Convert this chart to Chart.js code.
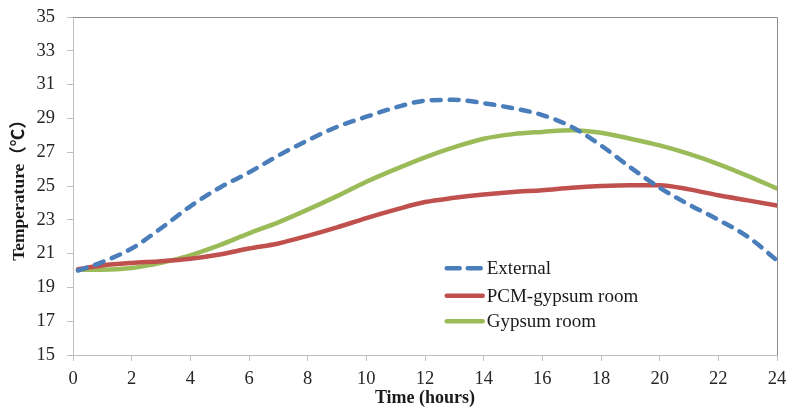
<!DOCTYPE html>
<html>
<head>
<meta charset="utf-8">
<script src="https://cdn.jsdelivr.net/npm/chart.js@4"></script>
<style>
  html, body { margin: 0; padding: 0; background: #ffffff; }
  #wrap { width: 788px; height: 410px; position: relative; }
</style>
</head>
<body>
<div id="wrap"><canvas id="chart"></canvas></div>
<script>
// Hourly temperature readings over one day (°C)
const hours = [0.17, 1, 2, 3, 4, 5, 6, 7, 8, 9, 10, 11, 12, 13, 14, 15, 16, 17, 18, 19, 20, 21, 22, 23, 24];
const external = [20.0, 20.5, 21.3, 22.5, 23.8, 24.9, 25.8, 26.8, 27.7, 28.5, 29.1, 29.65, 30.05, 30.1, 29.9, 29.6, 29.2, 28.5, 27.4, 26.1, 24.9, 23.9, 23.0, 22.0, 20.6];
const pcmGypsumRoom = [20.08, 20.3, 20.45, 20.55, 20.7, 20.95, 21.3, 21.6, 22.05, 22.55, 23.1, 23.6, 24.05, 24.3, 24.5, 24.65, 24.75, 24.9, 25.0, 25.05, 25.05, 24.8, 24.45, 24.15, 23.85];
const gypsumRoom = [20.05, 20.05, 20.15, 20.45, 20.9, 21.5, 22.2, 22.85, 23.6, 24.4, 25.25, 26.0, 26.7, 27.3, 27.8, 28.07, 28.2, 28.3, 28.15, 27.8, 27.4, 26.9, 26.3, 25.6, 24.85];
const seriesNames = ['External', 'PCM-gypsum room', 'Gypsum room'];
const xTitle = 'Time (hours)';
const yTitle = 'Temperature（℃）';

const serif = "'Liberation Serif', 'Times New Roman', 'Noto Sans CJK SC', serif";
const axisGray = '#bfbfbf';
const frameGray = '#8e8e8e';

const toPoints = (vals) => vals.map((v, i) => ({ x: hours[i], y: v }));

// Legend drawn inside the plot area, lower middle
const insetLegend = {
  id: 'insetLegend',
  afterDatasetsDraw(chart) {
    const { ctx, chartArea: a } = chart;
    const x0 = a.left + a.width * 0.528;
    const lineLen = a.width * 0.054;
    const rows = [0.743, 0.825, 0.9];
    ctx.save();
    ctx.font = '19px ' + serif;
    ctx.textBaseline = 'middle';
    ctx.textAlign = 'left';
    chart.data.datasets.forEach((ds, i) => {
      const y = a.top + a.height * rows[i];
      ctx.beginPath();
      ctx.strokeStyle = ds.borderColor;
      ctx.lineWidth = ds.borderWidth;
      ctx.lineCap = 'round';
      ctx.setLineDash(ds.borderDash ? [13, 8] : []);
      ctx.moveTo(x0 + 2, y);
      ctx.lineTo(x0 + lineLen, y);
      ctx.stroke();
      ctx.setLineDash([]);
      ctx.fillStyle = '#1a1a1a';
      ctx.fillText(ds.label, x0 + lineLen + 4, y + 1);
    });
    ctx.restore();
  }
};

// Top and right frame lines of the plot area
const plotFrame = {
  id: 'plotFrame',
  beforeDatasetsDraw(chart) {
    const { ctx, chartArea: a } = chart;
    ctx.save();
    ctx.strokeStyle = frameGray;
    ctx.lineWidth = 1;
    ctx.beginPath();
    ctx.moveTo(a.left, a.top + 0.5);
    ctx.lineTo(a.right + 0.5, a.top + 0.5);
    ctx.lineTo(a.right + 0.5, a.bottom);
    ctx.stroke();
    ctx.restore();
  }
};

new Chart(document.getElementById('chart'), {
  type: 'line',
  data: {
    datasets: [
      {
        label: seriesNames[0],
        data: toPoints(external),
        borderColor: '#4a7ebb',
        borderWidth: 4.5,
        borderDash: [9, 9],
        borderCapStyle: 'round',
        pointRadius: 0,
        cubicInterpolationMode: 'monotone'
      },
      {
        label: seriesNames[1],
        data: toPoints(pcmGypsumRoom),
        borderColor: '#c0504d',
        borderWidth: 4.5,
        borderCapStyle: 'round',
        pointRadius: 0,
        cubicInterpolationMode: 'monotone'
      },
      {
        label: seriesNames[2],
        data: toPoints(gypsumRoom),
        borderColor: '#9bbb59',
        borderWidth: 4.5,
        borderCapStyle: 'round',
        pointRadius: 0,
        cubicInterpolationMode: 'monotone'
      }
    ]
  },
  options: {
    responsive: true,
    maintainAspectRatio: false,
    animation: false,
    layout: { padding: { top: 17, right: 11, left: 0, bottom: 0 } },
    plugins: {
      legend: { display: false },
      tooltip: { enabled: false }
    },
    scales: {
      x: {
        type: 'linear',
        min: 0,
        max: 24,
        afterFit(scale) {
          scale.height = 55;
          scale.paddingLeft = 0;
          scale.paddingRight = 0;
        },
        ticks: {
          stepSize: 2,
          padding: 7,
          color: '#262626',
          font: { family: serif, size: 18.5 }
        },
        grid: { drawOnChartArea: false, drawTicks: true, tickLength: 6, color: axisGray },
        border: { display: true, color: axisGray, width: 1 },
        title: {
          display: true,
          text: xTitle,
          color: '#1a1a1a',
          font: { family: serif, size: 18, weight: 'bold' },
          padding: { top: 0, bottom: 1 }
        }
      },
      y: {
        type: 'linear',
        min: 15,
        max: 35,
        afterFit(scale) {
          scale.width = 73;
          scale.paddingTop = 0;
          scale.paddingBottom = 0;
        },
        ticks: {
          stepSize: 2,
          padding: 12,
          color: '#262626',
          font: { family: serif, size: 18.5 }
        },
        grid: { drawOnChartArea: false, drawTicks: true, tickLength: 6, color: axisGray },
        border: { display: true, color: axisGray, width: 1 },
        title: {
          display: true,
          text: yTitle,
          color: '#1a1a1a',
          font: { family: serif, size: 17.5, weight: 'bold' },
          padding: { top: 9, bottom: 0 }
        }
      }
    }
  },
  plugins: [plotFrame, insetLegend]
});
</script>
</body>
</html>
